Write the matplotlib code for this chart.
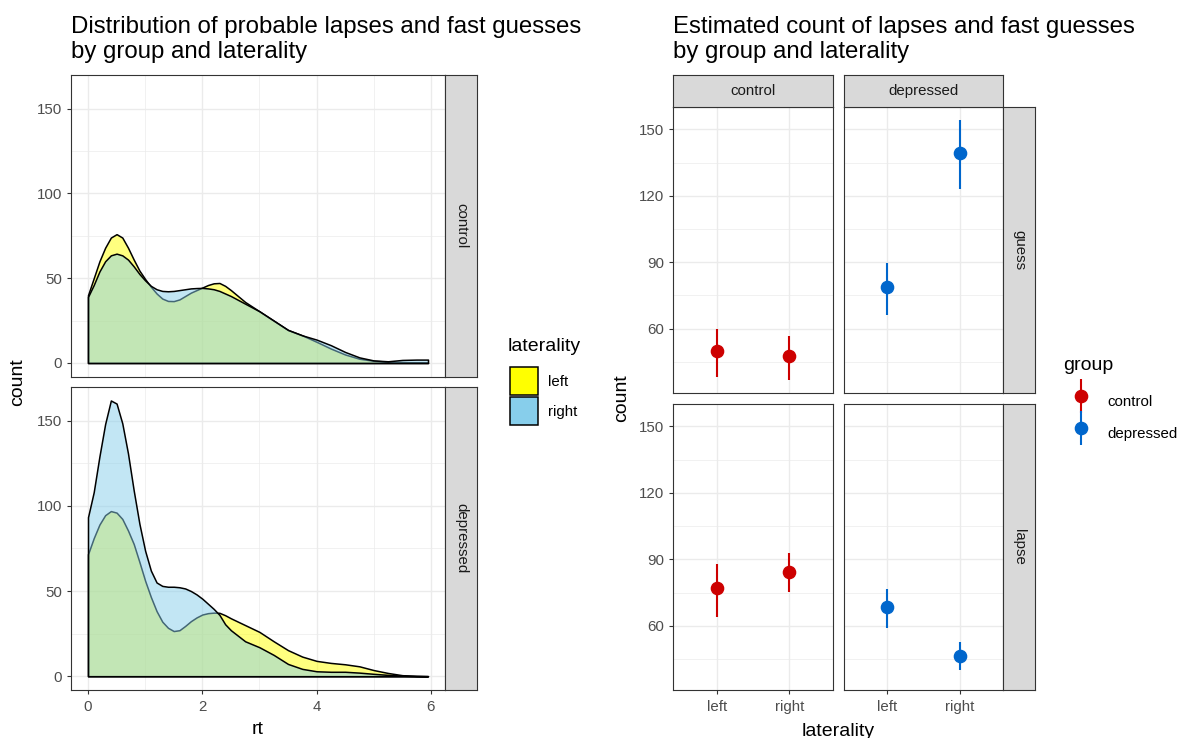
import matplotlib.pyplot as plt
from matplotlib.colors import to_rgba
from matplotlib.patches import Patch
from matplotlib.ticker import MultipleLocator, FixedLocator
from matplotlib.container import ErrorbarContainer
from matplotlib.legend_handler import HandlerErrorbar

plt.rcParams['font.family'] = ['Liberation Sans', 'DejaVu Sans']

# ---- left chart: density of rt on count scale ----
rt = [0.0, 0.1, 0.2, 0.3, 0.4, 0.5, 0.6, 0.7, 0.8, 0.9,
      1.0, 1.1, 1.2, 1.3, 1.4, 1.5, 1.6, 1.7, 1.8, 1.9,
      2.0, 2.1, 2.2, 2.3, 2.4, 2.5, 2.75, 3.0, 3.25, 3.5,
      3.75, 4.0, 4.25, 4.5, 4.75, 5.0, 5.25, 5.5, 5.75, 5.95]

control_left = [40, 50, 60, 68, 74, 76, 74, 68, 61, 54.5,
                49.5, 45, 41, 38, 36.6, 36.5, 37.5, 39.5, 41.5, 43,
                44.5, 46, 47, 47.2, 45.5, 43, 36, 30.5, 25, 19.5,
                16.3, 12.5, 8.5, 5, 2.5, 1.3, 0.8, 0.5, 0.3, 0.2]
control_right = [39, 46, 54, 60, 63.5, 64.5, 63.5, 61, 57, 52.5,
                 48.7, 45.5, 43.5, 42.5, 42.3, 42.5, 43, 43.5, 44, 44.2,
                 44.3, 44, 43.5, 42.5, 41, 39.5, 35, 30.5, 25, 19.5,
                 16.3, 13.8, 10.5, 6.5, 3.3, 1.5, 1.0, 1.8, 2.0, 2.0]
depressed_left = [71.6, 81, 89, 94.5, 96.9, 96, 92.3, 85.5, 77.6, 67,
                  56, 46.5, 38.2, 32, 28.4, 26.5, 27, 29.5, 32.3, 34.5,
                  36.2, 37, 37.3, 37.2, 35.8, 34, 30, 26, 20.5, 15.3,
                  11.5, 9, 7.8, 7, 5.8, 3.6, 1.9, 0.6, 0.2, 0.05]
depressed_right = [93.3, 108, 129, 148, 161.8, 160, 148.4, 130.7, 109, 89.4,
                   73.6, 62, 55, 53, 52.5, 52.5, 52.2, 51.5, 50, 48,
                   45.5, 42.5, 39.5, 36, 30.5, 27, 20.5, 17, 12.5, 7.2,
                   4.3, 2.9, 2.6, 2.6, 2.1, 1.4, 0.8, 0.3, 0.1, 0.0]

# ---- right chart: estimated counts with intervals ----
laterality = ['left', 'right']
groups = ['control', 'depressed']
kinds = ['guess', 'lapse']
est = {('guess', 'control'): [49.9, 47.4], ('guess', 'depressed'): [78.9, 139.4],
       ('lapse', 'control'): [77.0, 84.3], ('lapse', 'depressed'): [68.4, 46.6]}
low = {('guess', 'control'): [38.0, 36.9], ('guess', 'depressed'): [66.0, 123.1],
       ('lapse', 'control'): [64.2, 75.2], ('lapse', 'depressed'): [59.0, 39.9]}
high = {('guess', 'control'): [60.0, 56.7], ('guess', 'depressed'): [89.6, 154.1],
        ('lapse', 'control'): [87.9, 93.0], ('lapse', 'depressed'): [76.8, 52.8]}
group_colors = {'control': '#CD0000', 'depressed': '#0066CC'}

W, H = 1188, 738
fig = plt.figure(figsize=(W / 100, H / 100), dpi=100)

BORDER = '#333333'
GRID = '#EBEBEB'
TICK_FS = 10.8
AXIS_FS = 14


def px_axes(l, t, r, b):
    return fig.add_axes([l / W, 1 - b / H, (r - l) / W, (b - t) / H])


def style_panel(ax):
    for s in ax.spines.values():
        s.set_color(BORDER)
        s.set_linewidth(0.8)
    ax.grid(which='major', color=GRID, lw=1.0)
    ax.grid(which='minor', color=GRID, lw=0.5)
    ax.set_axisbelow(True)
    ax.tick_params(which='major', length=3.0, width=0.8, color=BORDER,
                   labelsize=TICK_FS, labelcolor='#4D4D4D', pad=3.5)
    ax.tick_params(axis='x', which='major', pad=4.5)
    ax.tick_params(which='minor', length=0)


def strip(l, t, r, b, text, rot):
    s = px_axes(l, t, r, b)
    s.set_facecolor('#D9D9D9')
    s.set_xticks([])
    s.set_yticks([])
    for sp in s.spines.values():
        sp.set_color(BORDER)
        sp.set_linewidth(0.8)
    s.text(0.5, 0.5, text, rotation=rot, ha='center', va='center',
           fontsize=TICK_FS, color='#1A1A1A', transform=s.transAxes)


# ---------------- left chart ----------------
dens = {'control': (control_left, control_right),
        'depressed': (depressed_left, depressed_right)}
ymax = max(max(v) for pair in dens.values() for v in pair)
ypad = 0.05 * ymax
xpad = 0.05 * (rt[-1] - rt[0])
fills = {'left': 'yellow', 'right': 'skyblue'}

rows_left = [('control', 75, 376.7), ('depressed', 386.7, 690)]
for i, (name, t, b) in enumerate(rows_left):
    ax = px_axes(71, t, 445, b)
    style_panel(ax)
    for vals, side in zip(dens[name], laterality):
        ax.fill_between(rt, 0, vals, facecolor=to_rgba(fills[side], 0.5),
                        edgecolor='black', lw=1.1)
    ax.set_xlim(rt[0] - xpad, rt[-1] + xpad)
    ax.set_ylim(-ypad, ymax + ypad)
    ax.xaxis.set_major_locator(FixedLocator([0, 2, 4, 6]))
    ax.xaxis.set_minor_locator(MultipleLocator(1))
    ax.yaxis.set_major_locator(FixedLocator([0, 50, 100, 150]))
    ax.yaxis.set_minor_locator(MultipleLocator(25))
    if i == 0:
        ax.tick_params(axis='x', which='major', length=0, labelbottom=False)
    strip(445, t, 477.3, b, name, -90)

fig.text(18 / W, 1 - 382 / H, 'count', rotation=90, ha='center', va='center', fontsize=AXIS_FS)
fig.text(258 / W, 1 - 729 / H, 'rt', ha='center', va='center', fontsize=AXIS_FS)
fig.text(71 / W, 1 - 16 / H, 'Distribution of probable lapses and fast guesses\nby group and laterality',
         ha='left', va='top', fontsize=17.3, linespacing=1.16)

fig.text(508 / W, 1 - 347 / H, 'laterality', ha='left', va='center', fontsize=AXIS_FS)
leg1 = fig.legend(handles=[Patch(facecolor=fills[s], edgecolor='black', lw=1.1) for s in laterality],
                  labels=laterality, loc='upper left',
                  bbox_to_anchor=(510 / W, 1 - 367 / H), frameon=False,
                  handlelength=1.85, handleheight=2.5, labelspacing=0.15,
                  handletextpad=0.67, fontsize=TICK_FS,
                  borderaxespad=0.0, borderpad=0.0)

# ---------------- right chart ----------------
all_low = [v for vals in low.values() for v in vals]
all_high = [v for vals in high.values() for v in vals]
rng = max(all_high) - min(all_low)
ylo, yhi = min(all_low) - 0.05 * rng, max(all_high) + 0.05 * rng

cols_x = [(673.3, 832.7), (843.7, 1003.3)]
rows_y = [(107.3, 392.7), (404.3, 690)]
handles = {}
for r, kind in enumerate(kinds):
    for c, grp in enumerate(groups):
        l, rr = cols_x[c]
        t, b = rows_y[r]
        ax = px_axes(l, t, rr, b)
        style_panel(ax)
        e = est[(kind, grp)]
        err = [[e[k] - low[(kind, grp)][k] for k in range(2)],
               [high[(kind, grp)][k] - e[k] for k in range(2)]]
        h = ax.errorbar(laterality, e, yerr=err, fmt='o', color=group_colors[grp],
                        ms=8.8, elinewidth=1.5, capsize=0)
        handles[grp] = h
        ax.set_xlim(-0.6, 1.6)
        ax.set_ylim(ylo, yhi)
        ax.yaxis.set_major_locator(FixedLocator([60, 90, 120, 150]))
        ax.yaxis.set_minor_locator(MultipleLocator(15))
        if r == 0:
            ax.tick_params(axis='x', which='major', length=0, labelbottom=False)
        if c == 1:
            ax.tick_params(axis='y', which='major', length=0, labelleft=False)
        if r == 0:
            strip(l, 75, rr, 107.3, grp, 0)
    strip(1003.3, rows_y[r][0], 1035, rows_y[r][1], kind, -90)

fig.text(622 / W, 1 - 398 / H, 'count', rotation=90, ha='center', va='center', fontsize=AXIS_FS)
fig.text(838 / W, 1 - 731 / H, 'laterality', ha='center', va='center', fontsize=AXIS_FS)
fig.text(673 / W, 1 - 16 / H, 'Estimated count of lapses and fast guesses\nby group and laterality',
         ha='left', va='top', fontsize=17.3, linespacing=1.16)

fig.text(1063 / W, 1 - 365 / H, 'group', ha='left', va='center', fontsize=AXIS_FS)
leg2 = fig.legend(handles=[handles[g] for g in groups], labels=groups,
                  loc='upper left', bbox_to_anchor=(1069 / W, 1 - 386.5 / H), frameon=False,
                  handler_map={ErrorbarContainer: HandlerErrorbar(yerr_size=1.15)},
                  handlelength=1.6, handleheight=2.6, labelspacing=0.2,
                  handletextpad=0.93, fontsize=TICK_FS,
                  borderaxespad=0.0, borderpad=0.0)

fig.savefig('out.png', dpi=100)
